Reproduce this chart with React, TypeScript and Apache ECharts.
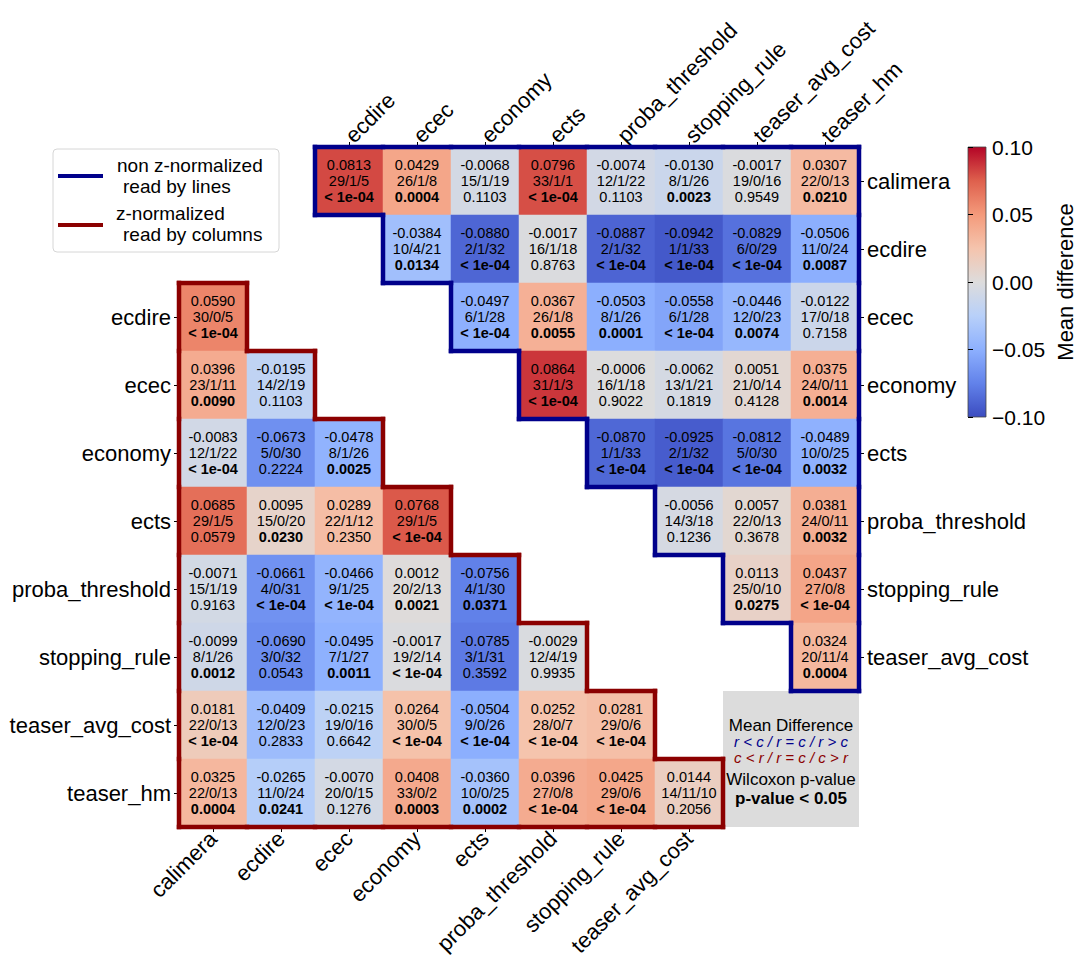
import React, { useEffect, useRef } from "react";
import * as echarts from "echarts";

const FONT = '"Liberation Sans", Arial, sans-serif';

const upperRows = ["calimera", "ecdire", "ecec", "economy", "ects", "proba_threshold", "stopping_rule", "teaser_avg_cost"];
const upperCols = ["ecdire", "ecec", "economy", "ects", "proba_threshold", "stopping_rule", "teaser_avg_cost", "teaser_hm"];
const lowerRows = ["ecdire", "ecec", "economy", "ects", "proba_threshold", "stopping_rule", "teaser_avg_cost", "teaser_hm"];
const lowerCols = ["calimera", "ecdire", "ecec", "economy", "ects", "proba_threshold", "stopping_rule", "teaser_avg_cost"];

// Upper triangle (non z-normalized, read by lines): row i holds columns i..7
const upperMean = [
  [0.0813, 0.0429, -0.0068, 0.0796, -0.0074, -0.013, -0.0017, 0.0307],
  [-0.0384, -0.088, -0.0017, -0.0887, -0.0942, -0.0829, -0.0506],
  [-0.0497, 0.0367, -0.0503, -0.0558, -0.0446, -0.0122],
  [0.0864, -0.0006, -0.0062, 0.0051, 0.0375],
  [-0.087, -0.0925, -0.0812, -0.0489],
  [-0.0056, 0.0057, 0.0381],
  [0.0113, 0.0437],
  [0.0324],
];
const upperCounts = [
  ["29/1/5", "26/1/8", "15/1/19", "33/1/1", "12/1/22", "8/1/26", "19/0/16", "22/0/13"],
  ["10/4/21", "2/1/32", "16/1/18", "2/1/32", "1/1/33", "6/0/29", "11/0/24"],
  ["6/1/28", "26/1/8", "8/1/26", "6/1/28", "12/0/23", "17/0/18"],
  ["31/1/3", "16/1/18", "13/1/21", "21/0/14", "24/0/11"],
  ["1/1/33", "2/1/32", "5/0/30", "10/0/25"],
  ["14/3/18", "22/0/13", "24/0/11"],
  ["25/0/10", "27/0/8"],
  ["20/11/4"],
];
const upperP = [
  ["< 1e-04", "0.0004", "0.1103", "< 1e-04", "0.1103", "0.0023", "0.9549", "0.0210"],
  ["0.0134", "< 1e-04", "0.8763", "< 1e-04", "< 1e-04", "< 1e-04", "0.0087"],
  ["< 1e-04", "0.0055", "0.0001", "< 1e-04", "0.0074", "0.7158"],
  ["< 1e-04", "0.9022", "0.1819", "0.4128", "0.0014"],
  ["< 1e-04", "< 1e-04", "< 1e-04", "0.0032"],
  ["0.1236", "0.3678", "0.0032"],
  ["0.0275", "< 1e-04"],
  ["0.0004"],
];

// Lower triangle (z-normalized, read by columns): row r holds columns 0..r
const lowerMean = [
  [0.059],
  [0.0396, -0.0195],
  [-0.0083, -0.0673, -0.0478],
  [0.0685, 0.0095, 0.0289, 0.0768],
  [-0.0071, -0.0661, -0.0466, 0.0012, -0.0756],
  [-0.0099, -0.069, -0.0495, -0.0017, -0.0785, -0.0029],
  [0.0181, -0.0409, -0.0215, 0.0264, -0.0504, 0.0252, 0.0281],
  [0.0325, -0.0265, -0.007, 0.0408, -0.036, 0.0396, 0.0425, 0.0144],
];
const lowerCounts = [
  ["30/0/5"],
  ["23/1/11", "14/2/19"],
  ["12/1/22", "5/0/30", "8/1/26"],
  ["29/1/5", "15/0/20", "22/1/12", "29/1/5"],
  ["15/1/19", "4/0/31", "9/1/25", "20/2/13", "4/1/30"],
  ["8/1/26", "3/0/32", "7/1/27", "19/2/14", "3/1/31", "12/4/19"],
  ["22/0/13", "12/0/23", "19/0/16", "30/0/5", "9/0/26", "28/0/7", "29/0/6"],
  ["22/0/13", "11/0/24", "20/0/15", "33/0/2", "10/0/25", "27/0/8", "29/0/6", "14/11/10"],
];
const lowerP = [
  ["< 1e-04"],
  ["0.0090", "0.1103"],
  ["< 1e-04", "0.2224", "0.0025"],
  ["0.0579", "0.0230", "0.2350", "< 1e-04"],
  ["0.9163", "< 1e-04", "< 1e-04", "0.0021", "0.0371"],
  ["0.0012", "0.0543", "0.0011", "< 1e-04", "0.3592", "0.9935"],
  ["< 1e-04", "0.2833", "0.6642", "< 1e-04", "< 1e-04", "< 1e-04", "< 1e-04"],
  ["0.0004", "0.0241", "0.1276", "0.0003", "0.0002", "< 1e-04", "< 1e-04", "0.2056"],
];

const colorMin = -0.1;
const colorMax = 0.1;
const colorInterval = 0.05;
const coolwarm = ["#3b4cc0", "#6282ea", "#8db0fe", "#b8d0f9", "#dddcdc", "#f5c4ad", "#f49a7b", "#de604d", "#b40426"];

const BLUE = "#00008b";
const RED = "#8b0000";
const N = 10;
const OFF = 2;

const isSig = (p: string) => p.startsWith("<") || parseFloat(p) < 0.05;

function buildOption() {
  const heat: any[] = [];
  const upperCells: number[][] = [];
  const lowerCells: number[][] = [];
  upperMean.forEach((row, i) =>
    row.forEach((m, k) => {
      const gx = i + k + OFF;
      const gy = i;
      upperCells.push([gx, gy]);
      heat.push({ value: [gx, gy, m], counts: upperCounts[i][k], p: upperP[i][k] });
    })
  );
  lowerMean.forEach((row, r) =>
    row.forEach((m, c) => {
      const gx = c;
      const gy = r + OFF;
      lowerCells.push([gx, gy]);
      heat.push({ value: [gx, gy, m], counts: lowerCounts[r][c], p: lowerP[r][c] });
    })
  );

  const blank = (i: number) => "#" + i;
  const bottomCats = Array.from({ length: N }, (_, i) => (i < lowerCols.length ? lowerCols[i] : blank(i)));
  const topCats = Array.from({ length: N }, (_, i) => (i >= OFF ? upperCols[i - OFF] : blank(i)));
  const leftCats = Array.from({ length: N }, (_, i) => (i >= OFF ? lowerRows[i - OFF] : blank(i)));
  const rightCats = Array.from({ length: N }, (_, i) => (i < upperRows.length ? upperRows[i] : blank(i)));
  const labelFmt = (v: string) => (v.startsWith("#") ? "" : v);

  const catAxis = (extra: any, showTick: (i: number) => boolean) => ({
    type: "category",
    gridIndex: 0,
    axisLine: { show: false },
    axisTick: { show: true, alignWithLabel: true, length: 5, interval: (i: number) => showTick(i), lineStyle: { color: "#000", width: 1 } },
    axisLabel: { interval: 0, fontSize: 22, color: "#000", margin: 8, fontFamily: FONT, formatter: labelFmt },
    splitLine: { show: false },
    ...extra,
  });

  const outline = (cells: number[][], color: string) => {
    const key = new Set(cells.map((c) => c[0] + "," + c[1]));
    const has = (a: number, b: number) => key.has(a + "," + b);
    return {
      type: "custom",
      xAxisIndex: 0,
      yAxisIndex: 0,
      z: 10,
      silent: true,
      data: cells,
      renderItem: (params: any, api: any) => {
        const x = api.value(0);
        const y = api.value(1);
        const c = api.coord([x, y]);
        const s = api.size([1, 1]);
        const w = Math.abs(s[0]);
        const h = Math.abs(s[1]);
        const l = c[0] - w / 2, r = c[0] + w / 2, t = c[1] - h / 2, b = c[1] + h / 2;
        const segs: number[][] = [];
        if (!has(x - 1, y)) segs.push([l, t, l, b]);
        if (!has(x + 1, y)) segs.push([r, t, r, b]);
        if (!has(x, y - 1)) segs.push([l, t, r, t]);
        if (!has(x, y + 1)) segs.push([l, b, r, b]);
        return {
          type: "group",
          children: segs.map((sg) => ({
            type: "line",
            shape: { x1: sg[0], y1: sg[1], x2: sg[2], y2: sg[3] },
            style: { stroke: color, lineWidth: 4.5, lineCap: "square" },
          })),
        };
      },
    };
  };

  const gradStops = coolwarm
    .map((col, i) => ({ offset: 1 - i / (coolwarm.length - 1), color: col }))
    .reverse();

  const txt = (x: number, y: number, text: string, opts: any = {}) => ({
    type: "text",
    x,
    y,
    style: {
      text,
      fill: "#000",
      fontSize: 17,
      fontFamily: FONT,
      align: "center",
      verticalAlign: "middle",
      textAlign: "center",
      textVerticalAlign: "middle",
      ...opts,
    },
  });

  return {
    animation: false,
    backgroundColor: "#fff",
    textStyle: { fontFamily: FONT },
    grid: [
      { left: 179, top: 147, width: 680, height: 680 },
      { left: 968, top: 147, width: 18, height: 270 },
    ],
    xAxis: [
      catAxis({ data: bottomCats, position: "bottom", axisLabel: { interval: 0, rotate: 45, fontSize: 22, color: "#000", margin: 8, fontFamily: FONT, formatter: labelFmt } }, (i) => i < lowerCols.length),
      catAxis({ data: topCats, position: "top", axisLabel: { interval: 0, rotate: -45, fontSize: 22, color: "#000", margin: 8, fontFamily: FONT, formatter: labelFmt } }, (i) => i >= OFF),
      { type: "value", gridIndex: 1, show: false, min: 0, max: 1 },
    ],
    yAxis: [
      catAxis({ data: leftCats, position: "left", inverse: true }, (i) => i >= OFF),
      catAxis({ data: rightCats, position: "right", inverse: true }, (i) => i < upperRows.length),
      {
        type: "value",
        gridIndex: 1,
        position: "right",
        min: colorMin,
        max: colorMax,
        interval: colorInterval,
        axisLine: { show: false },
        axisTick: { show: true, length: 5, lineStyle: { color: "#000" } },
        axisLabel: {
          fontSize: 21,
          color: "#000",
          margin: 6,
          fontFamily: FONT,
          formatter: (v: number) => {
            const r = Math.round(v * 100);
            return (r < 0 ? "\u2212" : "") + (Math.abs(r) / 100).toFixed(2);
          },
        },
        splitLine: { show: false },
        name: "Mean difference",
        nameLocation: "middle",
        nameRotate: 90,
        nameGap: 68,
        nameTextStyle: { fontSize: 22, color: "#000", fontFamily: FONT },
      },
    ],
    visualMap: {
      show: false,
      type: "continuous",
      min: colorMin,
      max: colorMax,
      dimension: 2,
      seriesIndex: 0,
      inRange: { color: coolwarm },
    },
    series: [
      {
        type: "heatmap",
        xAxisIndex: 0,
        yAxisIndex: 0,
        data: heat,
        emphasis: { disabled: true },
        label: {
          show: true,
          color: "#000",
          fontSize: 14.5,
          lineHeight: 16,
          fontFamily: FONT,
          formatter: (params: any) => {
            const d = params.data;
            const m = d.value[2].toFixed(4);
            const pLine = isSig(d.p) ? `{b|${d.p}}` : `{n|${d.p}}`;
            return `{n|${m}}\n{n|${d.counts}}\n${pLine}`;
          },
          rich: {
            n: { fontSize: 14.5, lineHeight: 16, color: "#000", fontFamily: FONT },
            b: { fontSize: 14.5, lineHeight: 16, color: "#000", fontWeight: "bold", fontFamily: FONT },
          },
        },
      },
      outline(upperCells, BLUE),
      outline(lowerCells, RED),
    ],
    graphic: [
      // colorbar
      {
        type: "rect",
        shape: { x: 968, y: 147, width: 18, height: 270 },
        style: {
          fill: new echarts.graphic.LinearGradient(0, 0, 0, 1, gradStops),
          stroke: "#444",
          lineWidth: 0.8,
        },
      },
      // legend box
      {
        type: "rect",
        shape: { x: 53, y: 149, width: 226, height: 103, r: 4 },
        style: { fill: "#fff", stroke: "#d6d6d6", lineWidth: 1 },
      },
      { type: "line", shape: { x1: 58, y1: 176, x2: 103, y2: 176 }, style: { stroke: BLUE, lineWidth: 4 } },
      { type: "line", shape: { x1: 58, y1: 225, x2: 103, y2: 225 }, style: { stroke: RED, lineWidth: 4 } },
      txt(117, 165, "non z-normalized", { fontSize: 19, align: "left", textAlign: "left" }),
      txt(123, 186, "read by lines", { fontSize: 19, align: "left", textAlign: "left" }),
      txt(116, 213, "z-normalized", { fontSize: 19, align: "left", textAlign: "left" }),
      txt(123, 234, "read by columns", { fontSize: 19, align: "left", textAlign: "left" }),
      // explanation box
      {
        type: "rect",
        shape: { x: 723, y: 691, width: 136, height: 136 },
        style: { fill: "#dcdcdc" },
      },
      txt(791, 725, "Mean Difference"),
      txt(791, 741.5, "r < c / r = c / r > c", { fill: BLUE, fontStyle: "italic", fontSize: 15 }),
      txt(791, 757.5, "c < r / r = c / c > r", { fill: RED, fontStyle: "italic", fontSize: 15 }),
      txt(791, 779, "Wilcoxon p-value"),
      txt(791, 798, "p-value < 0.05", { fontWeight: "bold" }),
    ],
  };
}

export default function App() {
  const ref = useRef<HTMLDivElement>(null);
  useEffect(() => {
    const chart = echarts.init(ref.current as HTMLDivElement, null, { renderer: "svg" });
    chart.setOption(buildOption() as any);
    return () => chart.dispose();
  }, []);
  return (
    <div
      ref={ref}
      style={{ position: "fixed", left: 0, top: 0, width: 1080, height: 972, background: "#fff" }}
    />
  );
}
